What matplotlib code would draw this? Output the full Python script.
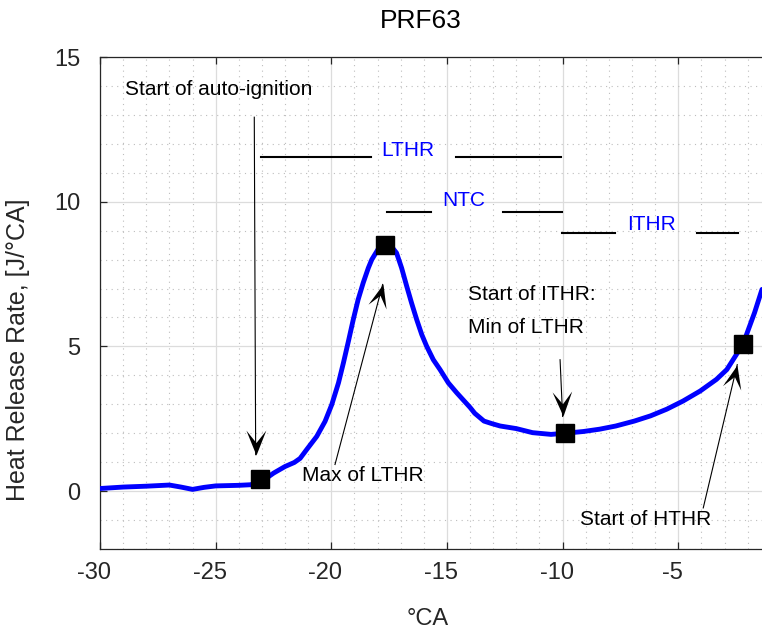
import matplotlib
matplotlib.use('Agg')
import matplotlib.pyplot as plt
import matplotlib.transforms as mtransforms
from matplotlib.ticker import MultipleLocator
from matplotlib.path import Path
from matplotlib.markers import MarkerStyle
import numpy as np

# ---------------- data ----------------
crank_angle = [-30, -29, -28, -27, -26.5, -26, -25.5, -25, -24, -23.5, -23.1, -22.8,
               -22.5, -22, -21.6, -21.35, -21.07, -20.63, -20.27, -19.98, -19.69, -19.48,
               -19.26, -19.05, -18.84, -18.62, -18.4, -18.25, -17.9, -17.68, -17.4, -17.18,
               -16.96, -16.74, -16.53, -16.31, -16.09, -15.88, -15.59, -15.3, -14.94, -14.58,
               -14.0, -13.8, -13.4, -13.05, -12.7, -12, -11.3, -10.5, -9.9, -9.1, -8.4,
               -7.7, -6.9, -6.2, -5.5, -4.8, -4.05, -3.35, -2.9, -2.2, -1.7, -1.38]
hrr = [0.09, 0.14, 0.17, 0.21, 0.14, 0.06, 0.13, 0.18, 0.2, 0.22, 0.3, 0.45,
       0.62, 0.85, 0.99, 1.13, 1.43, 1.89, 2.41, 2.99, 3.74, 4.42,
       5.18, 5.93, 6.62, 7.2, 7.71, 8.0, 8.46, 8.52, 8.45, 8.23,
       7.71, 7.08, 6.5, 5.93, 5.41, 5.01, 4.54, 4.2, 3.74, 3.4,
       2.89, 2.69, 2.42, 2.33, 2.25, 2.16, 2.02, 1.96, 2.0, 2.06, 2.14,
       2.25, 2.42, 2.6, 2.83, 3.11, 3.46, 3.86, 4.2, 5.08, 6.17, 6.97]

marker_x = [-23.1, -17.68, -9.9, -2.2]
marker_y = [0.42, 8.52, 2.0, 5.08]

phase_labels = ['LTHR', 'NTC', 'ITHR']
phase_label_pos = [(-17.82, 11.59), (-15.2, 9.84), (-7.23, 9.01)]
phase_segments = [
    [(-23.05, -18.28), (-14.61, -10.09)],
    [(-17.58, -15.71), (-12.56, -10.04)],
    [(-10.01, -7.74), (-4.18, -2.43)],
]
phase_levels = [11.53, 9.63, 8.91]

notes = ['Start of auto-ignition', 'Max of LTHR', 'Start of ITHR:', 'Min of LTHR', 'Start of HTHR']
note_pos = [(-28.92, 13.70), (-21.27, 0.34), (-14.09, 6.62), (-14.09, 5.47), (-9.25, -1.16)]

arrow_tails = [(-23.33, 12.92), (-19.84, 0.92), (-10.11, 4.54), (-3.92, -0.58)]
arrow_tips = [(-23.27, 1.26), (-17.78, 7.14), (-10.0, 2.58), (-2.45, 4.37)]

x_ticks = [-30, -25, -20, -15, -10, -5]
y_ticks = [0, 5, 10, 15]

# ---------------- style ----------------
plt.rcParams['font.family'] = ['Liberation Sans', 'DejaVu Sans']
plt.rcParams['axes.unicode_minus'] = False
axis_col = '#262626'
blue = '#0000ff'

fig = plt.figure(figsize=(7.62, 6.32), dpi=100)
ax = fig.add_axes([100 / 762, 83 / 632, 662 / 762, 492 / 632])

ax.set_xlim(-30, -1.38)
ax.set_ylim(-2, 15)
ax.set_xticks(x_ticks)
ax.set_yticks(y_ticks)
ax.xaxis.set_minor_locator(MultipleLocator(1))
ax.yaxis.set_minor_locator(MultipleLocator(1))

ax.grid(True, which='major', color='#dcdcdc', lw=0.9, ls='-', zorder=0)
ax.grid(True, which='minor', color='#bdbdbd', lw=0.8, ls=(0, (1, 4)), zorder=0)
ax.set_axisbelow(True)

ax.tick_params(which='major', direction='in', length=5, width=0.9, color=axis_col,
               labelcolor=axis_col, labelsize=17, top=True, right=False)
ax.tick_params(axis='x', which='major', pad=9.5)
ax.tick_params(axis='y', which='major', pad=14)
ax.tick_params(which='minor', length=0)
for s in ['left', 'bottom', 'top']:
    ax.spines[s].set_color(axis_col)
    ax.spines[s].set_linewidth(0.9)
ax.spines['right'].set_visible(False)

shift = mtransforms.ScaledTranslation(-0.06, 0, fig.dpi_scale_trans)
for lab in ax.get_xticklabels():
    lab.set_transform(lab.get_transform() + shift)

# curve + markers
ax.plot(crank_angle, hrr, color=blue, lw=3.5, solid_joinstyle='round',
        solid_capstyle='round', zorder=3)
ax.plot(marker_x, marker_y, ls='none', marker='s', ms=13, color='k', zorder=4)

# phase bars
for lab, (tx, ty), segs, lev in zip(phase_labels, phase_label_pos, phase_segments, phase_levels):
    for (x0, x1) in segs:
        ax.plot([x0, x1], [lev, lev], color='k', lw=1.5, zorder=2)
    ax.text(tx, ty, lab, color=blue, fontsize=15, ha='left', va='baseline', zorder=5)

# notes
for txt, (tx, ty) in zip(notes, note_pos):
    ax.text(tx, ty, txt, color='k', fontsize=15, ha='left', va='baseline', zorder=5)

# arrows: thin shaft + concave (stealth) arrowhead marker, MATLAB style
head_verts = np.array([[0.0, 0.0], [-1.0, 0.4], [-0.5, 0.0], [-1.0, -0.4], [0.0, 0.0]])
head_codes = [Path.MOVETO, Path.LINETO, Path.LINETO, Path.LINETO, Path.CLOSEPOLY]
for tail, tip in zip(arrow_tails, arrow_tips):
    ax.plot([tail[0], tip[0]], [tail[1], tip[1]], color='k', lw=0.8, zorder=5)
    p0 = ax.transData.transform(tail)
    p1 = ax.transData.transform(tip)
    ang = np.arctan2(p1[1] - p0[1], p1[0] - p0[0])
    rot = np.array([[np.cos(ang), -np.sin(ang)], [np.sin(ang), np.cos(ang)]])
    verts = head_verts @ rot.T
    mk = MarkerStyle(Path(verts, head_codes))
    ax.plot([tip[0]], [tip[1]], ls='none', marker=mk, ms=36, color='k',
            markeredgewidth=0, zorder=6)

# labels
fig.text(421 / 762, 1 - 28.3 / 632, 'PRF63', fontsize=19, ha='center', va='baseline', color='k')
fig.text(428 / 762, 1 - 625 / 632, '°CA', fontsize=17, ha='center', va='baseline', color=axis_col)
fig.text(18 / 762, 1 - 350 / 632, 'Heat Release Rate, [J/°CA]', fontsize=18, rotation=90,
         ha='center', va='center', color=axis_col)

fig.savefig('out.png', dpi=100)
